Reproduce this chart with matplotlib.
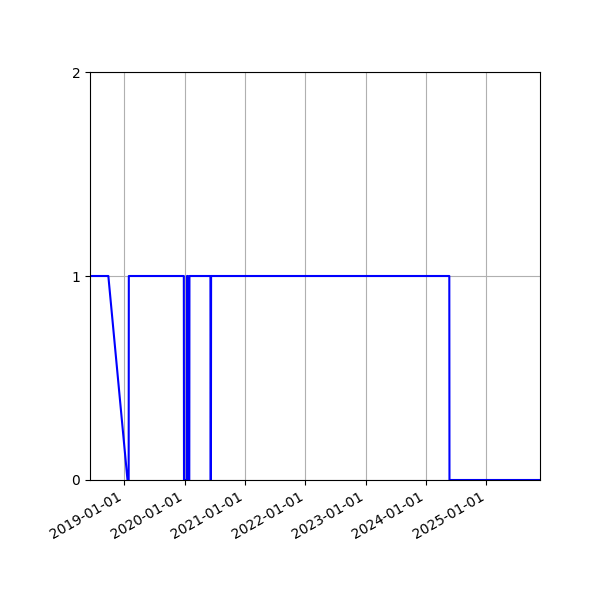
import numpy as np
import pandas as pd
import matplotlib
matplotlib.use('Agg')
import matplotlib.pyplot as plt
import matplotlib.dates as mdates

# status over time
dates = ['2018-06-07', '2018-09-26', '2019-01-20', '2019-01-27', '2019-01-28',
         '2019-12-27', '2019-12-28', '2020-01-14', '2020-01-15', '2020-01-20',
         '2020-01-21', '2020-01-29', '2020-01-30', '2020-06-05', '2020-06-06',
         '2020-06-08', '2020-06-09', '2024-05-21', '2024-05-22', '2025-11-21']
values = [1, 1, 0, 0, 1,
          1, 0, 0, 1, 1,
          0, 0, 1, 1, 0,
          0, 1, 1, 0, 0]

x = pd.to_datetime(dates)
y = np.array(values)

fig, ax = plt.subplots(figsize=(6, 6), dpi=100)
ax.plot(x, y, color='blue')
ax.set_xlim(x[0], x[-1])
ax.set_ylim(0, 2)
ax.set_yticks([0, 1, 2])
ax.xaxis.set_major_locator(mdates.YearLocator())
ax.xaxis.set_major_formatter(mdates.DateFormatter('%Y-%m-%d'))
ax.grid(True)
fig.autofmt_xdate()
fig.subplots_adjust(left=0.15, right=0.9, top=0.88, bottom=0.2)
fig.savefig('out.png')
